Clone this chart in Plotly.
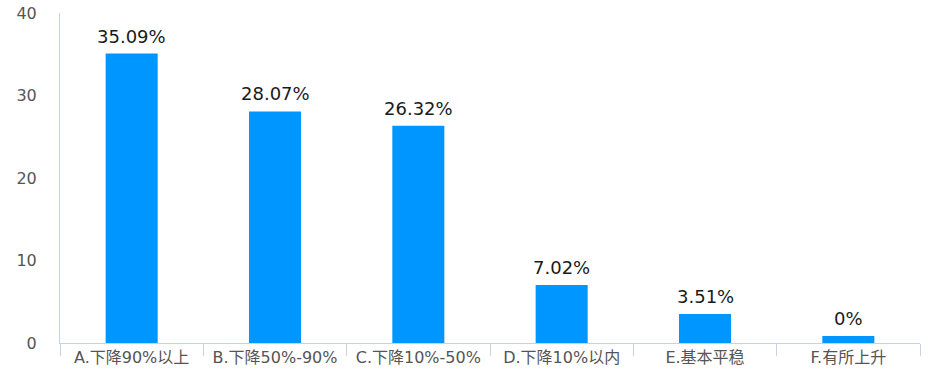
import plotly.graph_objects as go

categories = ["A.下降90%以上", "B.下降50%-90%", "C.下降10%-50%", "D.下降10%以内", "E.基本平稳", "F.有所上升"]
bar_values = [35.09, 28.07, 26.32, 7.02, 3.51, 0.85]
value_labels = ["35.09%", "28.07%", "26.32%", "7.02%", "3.51%", "0%"]
y_ticks = [0, 10, 20, 30, 40]

font_family = "DejaVu Sans, Noto Sans CJK SC, sans-serif"
axis_color = "#C5D3E3"

fig = go.Figure()
fig.add_trace(go.Bar(
    x=categories, y=bar_values,
    marker=dict(color="#0096FF", line=dict(width=0)),
    hoverinfo="skip",
))

for c, v, t in zip(categories, bar_values, value_labels):
    fig.add_annotation(x=c, y=v, text=t, showarrow=False, yanchor="bottom",
                       yshift=5, font=dict(family=font_family, size=18, color="#1a1a1a"))

fig.update_layout(
    width=938, height=391,
    margin=dict(l=60, r=18, t=13, b=48),
    paper_bgcolor="white", plot_bgcolor="white",
    bargap=0.637,
    showlegend=False,
    font=dict(family=font_family),
)
fig.update_xaxes(
    automargin=False,
    showline=True, linecolor=axis_color, linewidth=1,
    ticks="outside", tickson="boundaries", ticklen=12, tickcolor=axis_color,
    tickfont=dict(size=16, color="#555555", family=font_family),
    showgrid=False,
)
fig.update_yaxes(
    automargin=False,
    range=[0, 40], tickvals=y_ticks,
    showline=True, linecolor=axis_color, linewidth=1,
    ticks="outside", ticklen=19, tickcolor="rgba(0,0,0,0)",
    tickfont=dict(size=16, color="#555555", family=font_family),
    ticklabeloverflow="allow",
    showgrid=False, zeroline=False,
)

fig.write_html("out.html", config={"displayModeBar": False},
               post_script="document.body.style.margin='0';")
